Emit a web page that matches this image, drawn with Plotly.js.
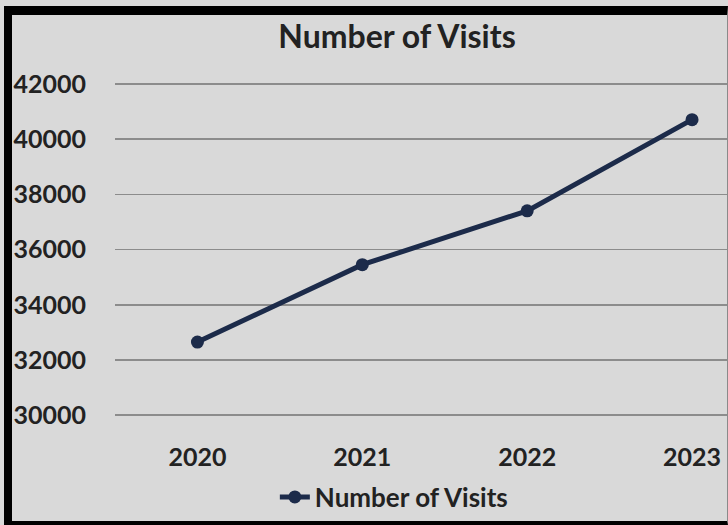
<!DOCTYPE html>
<html>
<head>
<meta charset="utf-8">
<script src="https://cdn.plot.ly/plotly-3.0.1.min.js"></script>
<style>
  html, body { margin: 0; padding: 0; background: #d9d9d9; width: 728px; height: 525px; overflow: hidden; }
  #frame { position: absolute; left: 4px; top: 6px; width: 715px; height: 506px;
           border-left: 8px solid #000; border-top: 9px solid #000; border-bottom: 4px solid #000;
           border-right: 1px solid #8a8a8a; background: #d9d9d9; }
  #chart { position: absolute; left: 0; top: 0; width: 728px; height: 525px; }
</style>
</head>
<body>
<div id="frame"></div>
<div id="chart"></div>
<script>
const years = ["2020", "2021", "2022", "2023"];
const visits = [32650, 35450, 37400, 40700];
const yTicks = [30000, 32000, 34000, 36000, 38000, 40000, 42000];
const seriesName = "Number of Visits";
const chartTitle = "Number of Visits";

const navy = "#1c2b4a";
const FONT = "Lato, 'Noto Sans', sans-serif";
const TXT = "#222222";

const trace = {
  x: years,
  y: visits,
  name: seriesName,
  type: "scatter",
  mode: "lines+markers",
  line: { color: navy, width: 5 },
  marker: { color: navy, size: 13 },
  showlegend: true
};

const layout = {
  width: 728,
  height: 525,
  paper_bgcolor: "rgba(0,0,0,0)",
  plot_bgcolor: "rgba(0,0,0,0)",
  margin: { l: 115, r: 1, t: 81, b: 107 },
  title: {
    text: "<b>" + chartTitle + "</b>",
    font: { family: FONT, size: 32, color: TXT },
    x: 397 / 728, xref: "container", xanchor: "center",
    y: 1 - 37 / 525, yref: "container", yanchor: "middle"
  },
  xaxis: {
    type: "category",
    range: [-0.5, 3.212],
    showgrid: false, zeroline: false, showline: false,
    ticks: "",
    tickfont: { family: FONT, size: 25, color: TXT, weight: "bold" },
    ticklabelstandoff: 22
  },
  yaxis: {
    range: [29900, 42100],
    tickvals: yTicks,
    ticktext: yTicks.map(String),
    showgrid: true, gridcolor: "#8c8c8c", gridwidth: 1.5,
    zeroline: false, showline: false, ticks: "",
    tickfont: { family: FONT, size: 25, color: TXT, weight: "bold" },
    ticklabelstandoff: 28
  },
  showlegend: true,
  legend: {
    orientation: "h",
    x: 0.541, xref: "container", xanchor: "center",
    y: 1 - 497 / 525, yref: "container", yanchor: "middle",
    font: { family: FONT, size: 26, color: TXT, weight: "bold" },
    bgcolor: "rgba(0,0,0,0)",
    itemwidth: 30
  }
};

Plotly.newPlot("chart", [trace], layout, { displayModeBar: false, staticPlot: true });
</script>
</body>
</html>
